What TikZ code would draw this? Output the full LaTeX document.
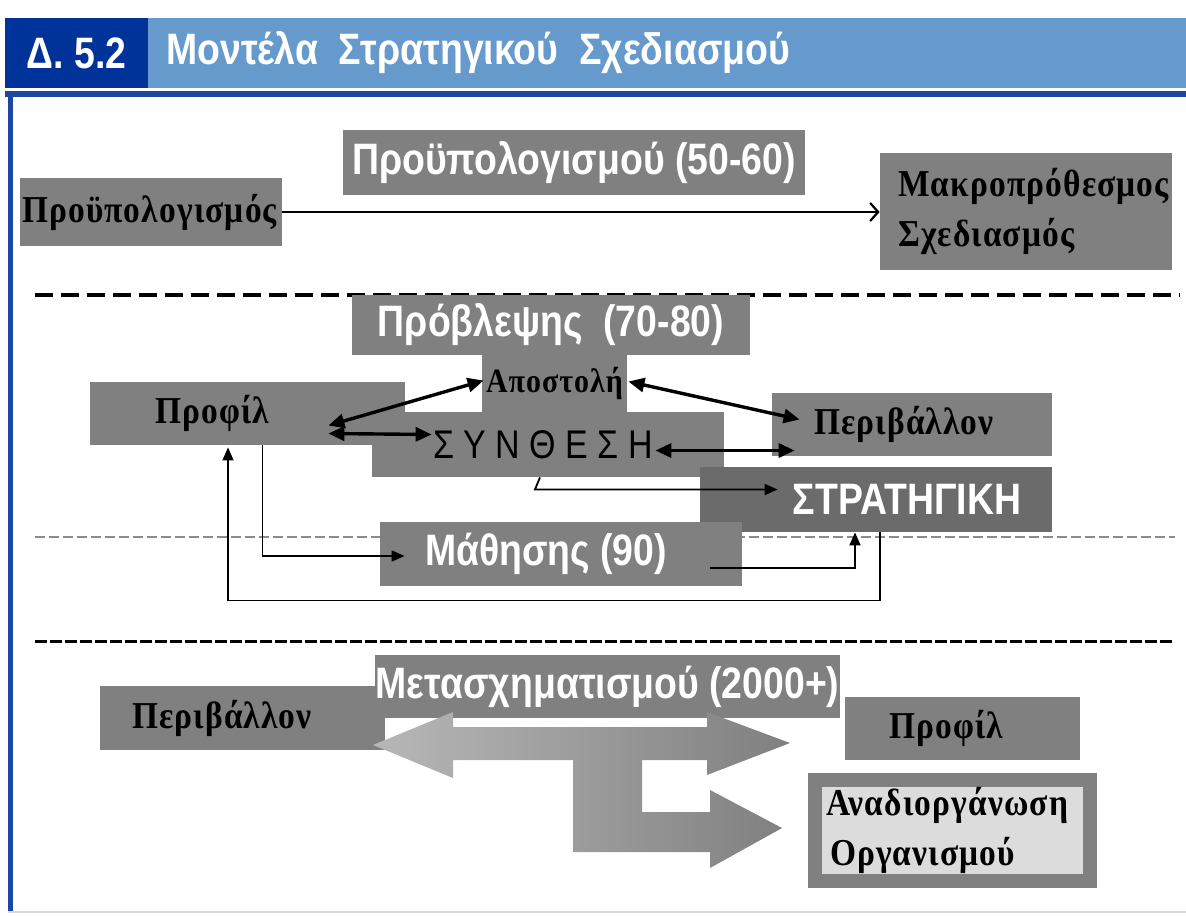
\documentclass[tikz,border=0pt]{standalone}
\usepackage{fontspec}
\setmainfont{Liberation Sans}
\newfontfamily\narrowsans[FakeStretch=0.85]{Liberation Sans}
\newfontfamily\greekserif[FakeStretch=0.88,LetterSpace=3]{Liberation Serif}
\usetikzlibrary{arrows.meta, calc}
\definecolor{HeadBlue}{HTML}{003399}
\definecolor{BarBlue}{HTML}{6699CC}
\definecolor{LineBlue}{HTML}{1C46A0}
\definecolor{BoxGray}{HTML}{808080}
\definecolor{DarkGray}{HTML}{6B6B6B}
\definecolor{PaleGray}{HTML}{DCDCDC}

\begin{document}
\begin{tikzpicture}[
    x=0.5pt, y=-0.5pt,
    era/.style={fill=BoxGray, text=white, inner sep=0pt,
        font=\narrowsans\bfseries\fontsize{22}{26}\selectfont},
    item/.style={fill=BoxGray, text=black, inner sep=0pt, align=left,
        font=\greekserif\bfseries\fontsize{19}{25}\selectfont},
    link/.style={{Triangle[length=8pt,width=7pt]}-{Triangle[length=8pt,width=7pt]},
        line width=1.7pt},
    feed/.style={-{Triangle[length=6.5pt,width=5.5pt]}, line width=0.9pt},
    budarrow/.style={-{Straight Barb[length=4pt,width=9pt]}, line width=1.1pt},
]
\useasboundingbox (0,0) rectangle (1186,916);

% header and frame
\fill[BarBlue] (5,18) rectangle (1186,88);
\node[fill=HeadBlue, text=white, minimum width=71.5pt, minimum height=35pt,
      font=\narrowsans\bfseries\fontsize{22}{26}\selectfont] (sec) at (76.5,53) {Δ. 5.2};
\node[anchor=west, text=white, inner sep=0pt,
      font=\narrowsans\bfseries\fontsize{22}{26}\selectfont] (title) at (166,53)
    {Μοντέλα\ \ Στρατηγικού\ \ Σχεδιασμού};
\fill[LineBlue] (5,91) rectangle (1186,97);
\fill[LineBlue] (8,95) rectangle (13,912);
\draw[black!15, line width=1pt] (8,912) -- (1186,912);

% separators
\draw[line width=2pt, dash pattern=on 9pt off 4pt] (35,295) -- (1180,295);
\draw[black!45, line width=0.8pt, dash pattern=on 5pt off 2pt] (35,537) -- (1175,537);
\draw[line width=1.5pt, dash pattern=on 6pt off 1.5pt] (35,641) -- (1175,641);

% budget era
\node[era, minimum width=231pt, minimum height=32.5pt] (ebud) at (574,162.5)
    {Προϋπολογισμού (50-60)};
\node[item, text width=129pt, inner xsep=1pt, minimum height=34pt] (bud) at (151,212)
    {Προϋπολογισμός};
\node[item, text width=128pt, inner xsep=9pt, minimum height=58.5pt] (plan) at (1026,211.5)
    {Μακροπρόθεσμος\\Σχεδιασμός};
\draw[budarrow] (bud.east) -- (bud.east -| plan.west);

% forecasting era
\node[era, minimum width=199pt, minimum height=30pt] (efor) at (551,325)
    {Πρόβλεψης\ \ (70-80)};
\node[item, font=\greekserif\bfseries\fontsize{17}{20}\selectfont,
      minimum width=72.5pt, minimum height=28.5pt] (mission) at (554.5,383.5) {Αποστολή};
\node[item, minimum width=157.5pt, minimum height=31.5pt] (prof) at (247.5,413.5)
    {Προφίλ\hspace*{35.5pt}};
\node[item, font=\narrowsans\fontsize{20}{25}\selectfont,
      minimum width=176pt, minimum height=32.5pt] (synth) at (548,444.5)
    {Σ Υ Ν Θ Ε Σ Η\hspace*{5pt}};
\node[item, minimum width=140pt, minimum height=31.5pt] (env) at (912,424.5)
    {Περιβάλλον\hspace*{8pt}};
\node[era, fill=DarkGray, minimum width=176pt, minimum height=32.5pt] (strat) at (876,499.5)
    {\hspace*{31pt}ΣΤΡΑΤΗΓΙΚΗ};

% learning era
\node[era, minimum width=181pt, minimum height=32pt] (elearn) at (561,554)
    {Μάθησης (90)\hspace*{15pt}};

\draw[link] ($(prof.east)+(-77,12)$) -- ($(mission.west)+(2,-3)$);
\draw[link] ($(prof.east)+(-77,20)$) -- ($(synth.west)+(60,-10)$);
\draw[link] ($(mission.east)+(1,-2)$) -- ($(env.west)+(28,-5)$);
\draw[link] ($(synth.east)+(-69,6)$) -- ($(env.west)+(23,26)$);
\draw[feed] ($(synth.south)+(-8,0)$) -- ++(-5,12) -- ($(strat.west)+(78,-10)$);
\draw[feed] ($(prof.south)+(15,0)$) |- ($(elearn.west)+(25,2)$);
\draw[feed] ($(elearn.east)+(-32,14)$) -| ($(strat.south)+(-21,0)$);
\draw[feed, line width=0.7pt] ($(strat.south)+(4,0)$) -- ++(0,68) -| ($(prof.south)+(-19.5,2)$);

% transformation era
\node[item, minimum width=142.5pt, minimum height=32pt] (env2) at (242.5,718)
    {Περιβάλλον\hspace*{20.5pt}};
\node[era, minimum width=232.5pt, minimum height=31.5pt] (etrans) at (607.5,686.5)
    {Μετασχηματισμού (2000+)};
\shade[left color=black!28, right color=black!50]
    (373,745) -- (453,712) -- (453,727) -- (707,727) -- (707,712) -- (790,743)
    -- (707,775) -- (707,760) -- (642,760) -- (642,812) -- (710,812) -- (710,790)
    -- (782,828) -- (710,868) -- (710,852) -- (573,852) -- (573,760) -- (453,760)
    -- (453,778) -- cycle;
\node[item, minimum width=117.5pt, minimum height=31.5pt] (prof2) at (962.5,728.5)
    {Προφίλ\hspace*{16.5pt}};
\node[item, fill=PaleGray, draw=BoxGray, line width=7pt, text width=126.5pt,
      inner xsep=5.5pt, minimum height=50.5pt] (reorg) at (952.5,830.5)
    {Αναδιοργάνωση\\\hspace*{2pt}Οργανισμού};

\end{tikzpicture}
\end{document}
